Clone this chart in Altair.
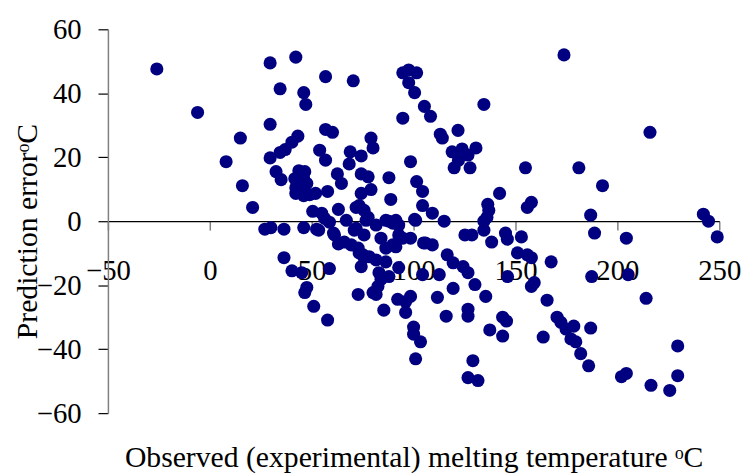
import altair as alt
import pandas as pd

# observed melting temperature (x) and prediction error (y)
obs = [
    -26, -6, 8, 15, 16, 21, 27, 30, 29.6, 29.6, 29.6, 34.5, 42.2, 46.1, 47.1, 56.8, 70.4,
    32.5, 35, 34.5, 37, 40.3, 43.2, 53.9, 56.8, 56.8, 60.2, 43.7, 46.6, 41.7, 47.6, 44.2,
    46.1, 49, 51.9, 57.8, 62.6, 64.6, 68.9, 68.4, 74.3, 79.1, 80.1, 74.3, 77.7, 74.3, 79.1,
    50.5, 54.9, 63.1, 71.8, 75.7, 56.3, 67, 36.4, 46.1, 52.4, 60.7, 70.9, 53.4, 58.7, 61.2,
    63.1, 66, 69.4, 72.8, 75.2, 75.7, 71.8, 76.7, 81.6, 84, 86.4, 89.8, 91.3, 92.7, 98.5,
    101, 104.9, 36.4, 40.3, 45.1, 58.7, 47.6, 46.6, 51, 57.8, 72.8, 74.3, 73.3, 75.7, 80.1,
    81.6, 86.4, 83, 87.9, 84, 92.7, 89.8, 94.7, 78.2, 81.6, 82.5, 85.4, 92.2, 98.5, 96.1,
    96.1, 100, 100, 103.4, 101, 104.4,
    94.7, 97.6, 101.5, 97.6, 100.5, 105.3, 108.3, 94.7, 134.5, 173.8, 216, 113.1, 114.1,
    121.8, 118.9, 123.8, 130.6, 126.7, 119.9, 127.7, 154.9, 181.1, 192.7, 98.5, 87.9, 101.5,
    104.4, 88.8, 104.4, 109.2, 115, 100.5, 87.9, 92.7, 142.2, 136.4, 136.9, 134.5, 134.5,
    155.8, 157.8, 186.9, 188.8, 204.4, 242.2, 244.7, 249, 125.2, 128.6, 138.3, 145.1, 152.9,
    146, 105.8, 109.2, 116.5, 119.4, 124.3, 126.7, 130.1, 135.4, 119.4, 111.7, 116, 126.7,
    126.7, 112.6, 137.4, 143.7, 145.6, 143.7, 129.1, 126.7, 131.6, 146.1, 151, 155.8, 157.8,
    159.2, 157.8, 165.5, 167.5, 163.6, 170.4, 172.3, 174.8, 178.6, 186.9, 177.2, 179.6, 182,
    185.9, 187.4, 205.3, 214.1, 229.6, 229.6, 225.7, 216.5, 202, 204.4,
    122, 136, 42.2, 42.2, 77.7, 86.4, 91.3, 46, 73.3,
]
err = [
    47.6, 34, 18.6, 26, 11.1, 4.3, -2.5, -2, 49.5, 30.3, 19.8, 41.4, 51.3, 40.2, 36.5, 45.2, 43.9,
    15.5, 13, 21.5, 22.4, 24.7, 26.6, 22.2, 19.1, 28.7, 27.8, 15.8, 15.5, 13.3, 11.8, 10.5,
    8, 8.3, 8.7, 9.3, 14.8, 11.8, 21.7, 17.9, 20.4, 26, 22.9, 14.8, 13.9, 8.7, 9.9,
    3.1, 2.5, 3.7, 4.3, 3.4, 0.9, 0.3, -2.5, -2, -2.5, -3.7, -2.8, -2.8, -0.3, -4.3,
    -7.1, -6.5, -7.4, -8.4, -10.5, -4.3, -2.2, 0.3, -1.2, -5.3, -8.4, -0.6, -8, -4.3, -5.3,
    0.3, -6.8, -11.4, -15.5, -16.1, -14.8, -20.7, -22.3, -26.6, -30.9, -22.9, -14.2, -9.9, -11.4, -22.3,
    -12.1, -12.7, -16.1, -17.3, -18.2, -14.5, -7.4, -5.3, -11.1, -22.9, -20.4, -27.8, -24.4, -23.5, -25.1,
    -28.5, -33.1, -35.3, -37.7, -43, -16.7,
    46.4, 47.3, 46.4, 43.3, 40.2, 35.9, 32.8, 32.2, 36.5, 52, 27.8, 27.2, 26,
    28.4, 21.7, 22.6, 22.9, 20.7, 16.7, 16.7, 16.7, 16.7, 11.1, 18.6, 13.6, 12.4,
    9.3, 6.8, 4.9, 2.5, 0, 0.6, 0, -1.2, 8.7, 5.3, 3.4, 0, -2.8,
    4.3, 5.9, 1.9, -3.7, -5.3, 2.2, 0, -4.9, -4.3, -4.3, -6.5, -3.7, -4.9,
    -5.6, -6.8, -7.4, -10.5, -13, -14.2, -16.1, -19.8, -23.5, -21, -23.8, -29.7, -27.5,
    -29.7, -16.7, -34, -30, -31.2, -35.9, -43.6, -48.9, -49.8, -17.3, -9.9, -10.5, -11.4,
    -19.2, -20.4, -24.7, -12.7, -36.2, -30, -31.6, -33.7, -32.8, -33.4, -36.8, -37.7, -41.4,
    -45.2, -17.3, -16.7, -24.1, -39, -48.3, -52.9, -51.3, -48.6, -47.6,
    19, 1.2, 10.5, 8.7, 1.2, 0.3, 0.3, 13.6, 4.9,
]
x_ticks = [-50, 0, 50, 100, 150, 200, 250]
y_ticks = [-60, -40, -20, 0, 20, 40, 60]

df = pd.DataFrame({"obs": obs, "err": err})

FONT = "Liberation Serif"

chart = (
    alt.Chart(df)
    .mark_point(filled=True, size=175, color="#000080", opacity=1)
    .encode(
        x=alt.X(
            "obs:Q",
            scale=alt.Scale(domain=[-50, 250], nice=False, zero=False),
            axis=alt.Axis(
                values=x_ticks,
                offset=-194,
                grid=False,
                title="Observed (experimental) melting temperature ᵒC",
                titleFont=FONT,
                titleFontSize=30,
                titleFontWeight="normal",
                titleColor="#000000",
                titleBaseline="alphabetic",
                titleY=248,
                labelFont=FONT,
                labelFontSize=29,
                labelColor="#000000",
                labelBaseline="alphabetic",
                labelPadding=50,
                labelFlush=False,
                labelOverlap=False,
                tickSize=9,
                tickColor="#808080",
                tickWidth=1.5,
                domainColor="#000000",
                domainWidth=1.2,
            ),
        ),
        y=alt.Y(
            "err:Q",
            scale=alt.Scale(domain=[-60, 60], nice=False, zero=False),
            axis=alt.Axis(
                values=y_ticks,
                grid=False,
                title="Prediction errorᵒC",
                titleFont=FONT,
                titleFontSize=30,
                titleFontWeight="normal",
                titleColor="#000000",
                titleAngle=-90,
                titleBaseline="alphabetic",
                titleX=-72,
                titleY=204,
                labelFont=FONT,
                labelFontSize=29,
                labelColor="#000000",
                labelPadding=17,
                labelFlush=False,
                labelOverlap=False,
                tickSize=10,
                tickColor="#000000",
                tickWidth=1.2,
                domainColor="#808080",
                domainWidth=1.5,
            ),
        ),
    )
    .properties(
        width=618,
        height=388,
        autosize=alt.AutoSizeParams(type="none"),
        padding={"left": 101, "top": 19, "right": 25, "bottom": 60},
    )
    .configure(font=FONT)
    .configure_view(stroke=None)
)

chart.save("out.html", embed_options={"renderer": "svg", "actions": False})
